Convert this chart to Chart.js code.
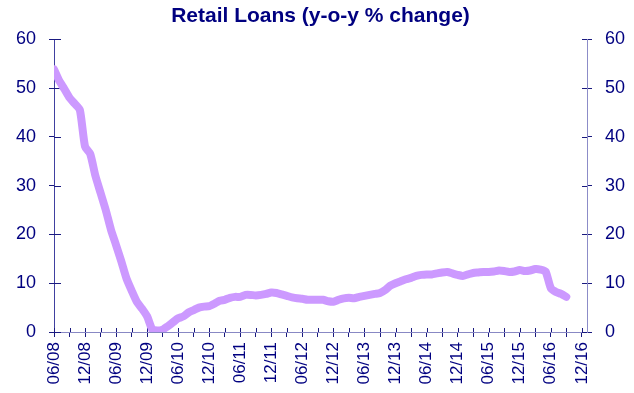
<!DOCTYPE html>
<html lang="en">
<head>
<meta charset="utf-8"/>
<title>Retail Loans (y-o-y % change)</title>
<script src="https://cdn.jsdelivr.net/npm/chart.js"></script>
<style>
  html, body { margin: 0; padding: 0; background: #fff; }
  #wrap { width: 634px; height: 393px; }
</style>
</head>
<body>
<div id="wrap"><canvas id="retailLoans" width="634" height="393"></canvas></div>
<script>
  // monthly y-o-y % change, 06/08 .. 09/16 (index = months since 06/08)
  const retailLoans = [
    53.8, 51.5, 49.8, 48.0, 46.8, 45.5, 38.0, 36.5, 32.0, 28.5,
    25.0, 21.0, 17.8, 14.5, 11.0, 8.5, 6.2, 4.8, 3.2, 0.5,
    0.3, 0.5, 1.2, 2.0, 2.8, 3.2, 4.0, 4.5, 5.0, 5.2,
    5.3, 5.8, 6.4, 6.6, 7.0, 7.2, 7.2, 7.6, 7.6, 7.5,
    7.6, 7.8, 8.1, 8.0, 7.7, 7.4, 7.1, 6.9, 6.8, 6.6,
    6.6, 6.6, 6.6, 6.3, 6.2, 6.6, 6.9, 7.0, 6.9, 7.2,
    7.4, 7.6, 7.8, 8.0, 8.6, 9.5, 10.0, 10.4, 10.8, 11.1,
    11.5, 11.7, 11.8, 11.8, 12.0, 12.2, 12.3, 12.0, 11.7, 11.5,
    11.8, 12.1, 12.2, 12.3, 12.3, 12.4, 12.6, 12.5, 12.3, 12.4,
    12.7, 12.5, 12.6, 12.9, 12.8, 12.4, 9.0, 8.2, 7.8, 7.2
  ];

  // one label every 6 months, minor tick in between
  const tickLabels = [
    '06/08', '12/08', '06/09', '12/09', '06/10', '12/10', '06/11', '12/11', '06/12',
    '12/12', '06/13', '12/13', '06/14', '12/14', '06/15', '12/15', '06/16', '12/16'
  ];
  const yMin = 0, yMax = 60, yStep = 10;
  const xMax = 103; // axis runs one month past 12/16

  const navy = '#000080';
  const tickColor = '#1a1a80';

  // short tick stubs on the inside of each axis
  const innerTicks = {
    id: 'innerTicks',
    beforeDatasetsDraw(chart) {
      const ctx = chart.ctx, a = chart.chartArea;
      ctx.save();
      ctx.strokeStyle = tickColor;
      ctx.lineWidth = 1;
      ctx.beginPath();
      const sx = chart.scales.x;
      sx.ticks.forEach(t => {
        const px = Math.round(sx.getPixelForValue(t.value)) + 0.5;
        ctx.moveTo(px, a.bottom); ctx.lineTo(px, a.bottom - 4);
      });
      const sy = chart.scales.y;
      sy.ticks.forEach(t => {
        const py = Math.round(sy.getPixelForValue(t.value)) + 0.5;
        ctx.moveTo(a.left, py); ctx.lineTo(a.left + 7, py);
        ctx.moveTo(a.right, py); ctx.lineTo(a.right - 5, py);
      });
      ctx.stroke();
      ctx.restore();
    }
  };

  const yAxis = (pos, borderColor) => ({
    position: pos,
    min: yMin,
    max: yMax,
    ticks: {
      stepSize: yStep,
      color: navy,
      padding: 13,
      font: { family: 'Liberation Sans, Arial, sans-serif', size: 18 }
    },
    grid: { drawOnChartArea: false, tickLength: 5, tickColor: tickColor },
    border: { color: borderColor, width: 1 },
    afterFit: s => { s.width = 38; }
  });

  new Chart(document.getElementById('retailLoans'), {
    type: 'line',
    data: {
      datasets: [{
        data: retailLoans.map((v, i) => ({ x: i, y: v })),
        borderColor: '#cc99ff',
        borderWidth: 8,
        borderCapStyle: 'round',
        borderJoinStyle: 'round',
        pointRadius: 0,
        tension: 0.2,
        fill: false,
        yAxisID: 'y'
      }]
    },
    options: {
      responsive: false,
      animation: false,
      layout: { padding: { left: 16, right: 9, top: 0, bottom: 8 } },
      plugins: {
        legend: { display: false },
        tooltip: { enabled: false },
        title: {
          display: true,
          text: 'Retail Loans (y-o-y % change)',
          color: navy,
          font: { family: 'Liberation Sans, Arial, sans-serif', size: 21, weight: 'bold' },
          padding: { top: 4, bottom: 10 }
        }
      },
      scales: {
        x: {
          type: 'linear',
          min: 0,
          max: xMax,
          afterBuildTicks: scale => {
            const t = [];
            tickLabels.forEach((_, i) => {
              t.push({ value: i * 6 });
              if (i * 6 + 3 <= xMax) t.push({ value: i * 6 + 3 });
            });
            scale.ticks = t.filter(k => k.value <= xMax).sort((p, q) => p.value - q.value);
          },
          afterFit: s => { s.paddingLeft = 0; s.paddingRight = 0; s.height = 53; },
          ticks: {
            autoSkip: false,
            minRotation: 90,
            maxRotation: 90,
            padding: 5,
            color: navy,
            font: { family: 'Liberation Sans, Arial, sans-serif', size: 17 },
            callback: v => (v % 6 === 0 ? tickLabels[v / 6] : '')
          },
          grid: { drawOnChartArea: false, tickLength: 5, tickColor: tickColor },
          border: { color: '#8888c4', width: 1 }
        },
        y: yAxis('left', '#4040a0'),
        y2: yAxis('right', '#8c8cc8')
      }
    },
    plugins: [innerTicks]
  });
</script>
</body>
</html>
